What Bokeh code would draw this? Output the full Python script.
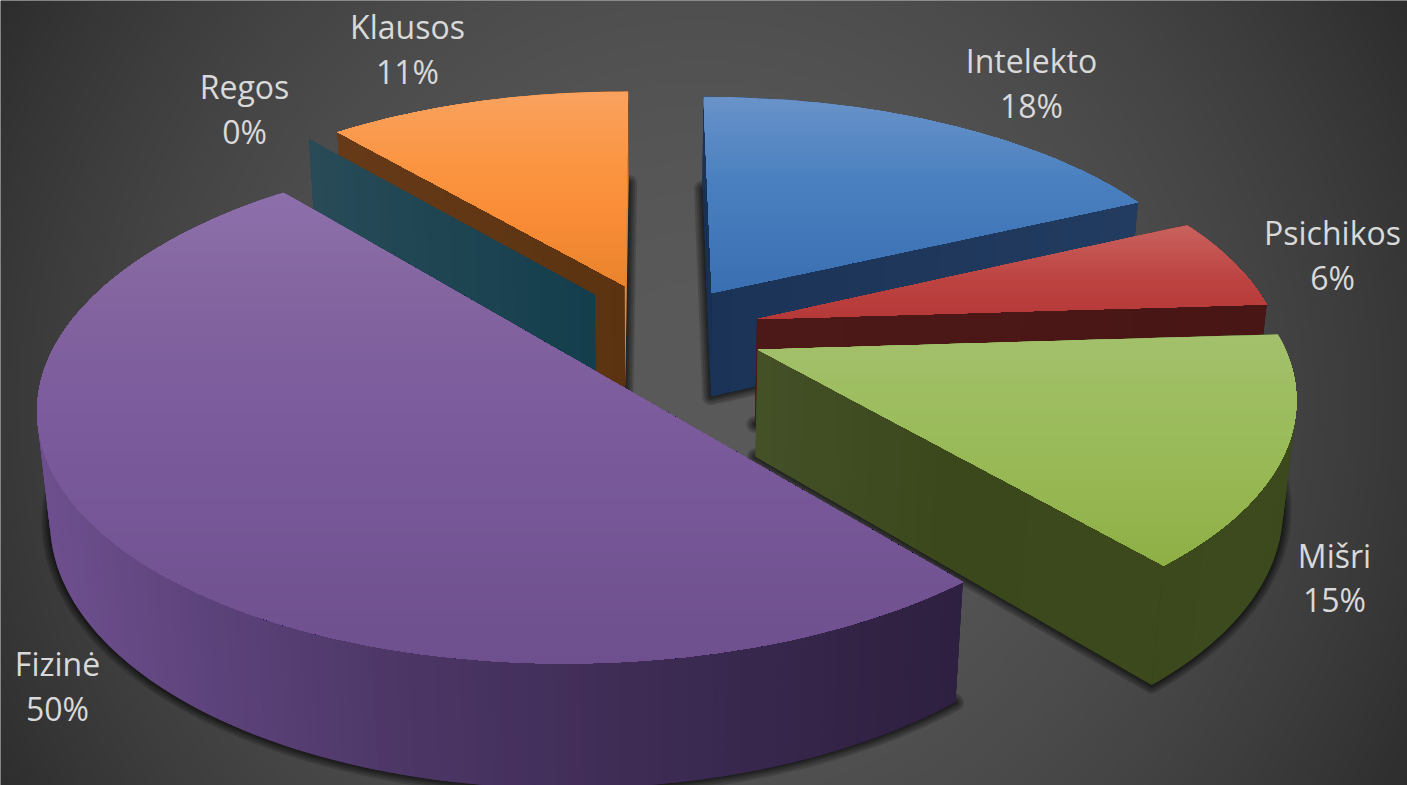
import numpy as np
from bokeh.plotting import figure
from bokeh.models import Range1d
from bokeh.core.properties import value
from bokeh.embed import file_html
from bokeh.resources import INLINE

# ---- data ----
categories = ["Intelekto", "Psichikos", "Mišri", "Fizinė", "Regos", "Klausos"]
shares = [18, 6, 14.85, 50, 0, 11.15]
percent_labels = ["18%", "6%", "15%", "50%", "0%", "11%"]

# ---- styles ----
top_stops = {
    "Intelekto": [(95, "#6a93c9"), (180, "#4a80bf"), (292, "#3a70b2")],
    "Psichikos": [(223, "#c9635f"), (280, "#bc4341"), (322, "#b43837")],
    "Mišri": [(335, "#a3c06c"), (430, "#9bbc5b"), (560, "#8fb047")],
    "Fizinė": [(193, "#8d70ab"), (300, "#83649f"), (420, "#7b5b9c"), (660, "#6f508e")],
    "Regos": [(100, "#2a5a6a"), (300, "#2a5a6a")],
    "Klausos": [(90, "#f9a260"), (170, "#fb9440"), (220, "#f98c36"), (288, "#e8832c")],
}
wall_stops = {
    "Intelekto": [(705, "#1a3356"), (1137, "#223b60")],
    "Psichikos": [(758, "#4d1818"), (1268, "#481615")],
    "Mišri": [(755, "#445027"), (950, "#3b481c"), (1290, "#3c4a1e")],
    "Fizinė": [(45, "#6d4f8e"), (200, "#5d437b"), (400, "#4c3666"), (700, "#3a2950"), (960, "#2e2040")],
    "Regos": [(307, "#284b57"), (595, "#143e4d")],
    "Klausos": [(338, "#663a18"), (628, "#5b3310")],
}
sliver = {"Klausos": "#d98a3e"}
label_pos = {
    "Intelekto": (1031, 60, 105), "Psichikos": (1332, 232, 277), "Mišri": (1334, 555, 599),
    "Fizinė": (57, 663, 708), "Regos": (244, 86, 131), "Klausos": (407, 26, 71),
}
draw_order = ["Intelekto", "Psichikos", "Klausos", "Regos", "Fizinė", "Mišri"]
explode = {"Intelekto": 0.19, "Psichikos": 0.193, "Mišri": 0.2, "Fizinė": 0.2, "Regos": 0.2, "Klausos": 0.205}
W, H = 1407, 785
CX, CY, VX = 660.0, 330.0, 650.0   # pie centre and vanishing column on the page
RX, RY, K = 521.0, 240.0, 0.165    # ellipse radii and perspective strength
DEPTH, SHRINK = 106.0, 0.02


def hex2rgb(c):
    return np.array([int(c[i:i + 2], 16) for i in (1, 3, 5)], float)


def ramp(stops, t):
    ts = [a for a, _ in stops]
    cols = np.array([hex2rgb(c) for _, c in stops])
    rgb = [np.interp(t, ts, cols[:, i]) for i in range(3)]
    return "#%02x%02x%02x" % tuple(int(round(v)) for v in rgb)


def project(X, Y, z):
    s = 1 / (1 + K * Y)
    x = VX + (CX - VX + RX * X) * s
    y = CY - RY * Y * s + DEPTH * z * s ** 0.8
    x = VX + (x - VX) * (1 - SHRINK * z * s)
    return x, y


def clip_below(poly, y0):
    out = []
    for i in range(len(poly)):
        a, b = poly[i], poly[(i + 1) % len(poly)]
        ka, kb = a[1] >= y0, b[1] >= y0
        if ka:
            out.append(a)
        if ka != kb:
            t = (y0 - a[1]) / (b[1] - a[1])
            out.append((a[0] + t * (b[0] - a[0]), y0))
    return out


# slice outlines in pie coordinates
outlines = {}
start = 0.0
total = sum(shares)
for name, v in zip(categories, shares):
    a0 = start * 2 * np.pi / total
    a1 = (start + v) * 2 * np.pi / total
    mid = (a0 + a1) / 2
    ox, oy = explode[name] * np.sin(mid), explode[name] * np.cos(mid)
    rr = np.linspace(0, 1, 24)
    arc = np.linspace(a0, a1, max(2, int(v * 3)))
    px = list(ox + rr * np.sin(a0)) + list(ox + np.sin(arc)) + list(ox + rr[::-1] * np.sin(a1))
    py = list(oy + rr * np.cos(a0)) + list(oy + np.cos(arc)) + list(oy + rr[::-1] * np.cos(a1))
    outlines[name] = (np.array(px), np.array(py))
    start += v

p = figure(width=W, height=H, x_range=Range1d(0, W), y_range=Range1d(H, 0),
           toolbar_location=None, output_backend="svg", min_border=0,
           x_axis_type=None, y_axis_type=None, margin=(0, 0, 0, 0))
p.grid.visible = False
p.outline_line_color = None
p.background_fill_color = "#444444"
p.border_fill_color = "#444444"

# background radial shading
gy, gx = np.mgrid[0:H // 2 + 1, 0:W // 2 + 1]
d2 = ((gx * 2 - 700.0) ** 2 + (gy * 2 - 400.0) ** 2) / 800.0 ** 2
lev = np.clip(90 - 44 * d2, 40, 92).astype(np.uint32)
bg = (255 << 24) | (lev << 16) | (lev << 8) | lev
p.image_rgba(image=[bg.astype(np.uint32)], x=0, y=0, dw=W, dh=H)

# soft shadows under each slice
for name in draw_order:
    if name == "Regos":
        continue
    X, Y = outlines[name]
    sx, sy = project(X, Y, 1.0)
    for lw in (17, 13, 9, 6, 3):
        p.patch(list(sx), list(sy), fill_color="black", fill_alpha=0.16,
                line_color="black", line_alpha=0.16, line_width=lw, line_join="round")

for name in draw_order:
    X, Y = outlines[name]
    tx, ty = project(X, Y, 0.0)
    bx, by = project(X, Y, 1.0)
    xs, ys, cols = [], [], []
    n = len(X)
    for i in range(n - 1):
        j = min(i + 2, n - 1)
        xs.append([tx[i], tx[i + 1], tx[j], bx[j], bx[i + 1], bx[i]])
        ys.append([ty[i], ty[i + 1], ty[j], by[j], by[i + 1], by[i]])
        cols.append(ramp(wall_stops[name], (tx[i] + tx[i + 1]) / 2))
    if name in sliver:   # the cut face that catches the light
        m = 24
        xs.append(list(tx[-m:]) + list(bx[-m:][::-1]))
        ys.append(list(ty[-m:]) + list(by[-m:][::-1]))
        cols.append(sliver[name])
    p.patches(xs, ys, fill_color=cols, line_color=None)

    if name == "Regos":
        continue
    poly = list(zip(tx, ty))
    xs, ys, cols = [], [], []
    step = 3.0
    yy = np.floor(ty.min())
    while yy < ty.max():
        band = clip_below(poly, yy)
        if len(band) >= 3:
            xs.append([q[0] for q in band])
            ys.append([q[1] for q in band])
            cols.append(ramp(top_stops[name], yy + step / 2))
        yy += step
    p.patches(xs, ys, fill_color=cols, line_color=None)

for name, pct in zip(categories, percent_labels):
    lx, ly1, ly2 = label_pos[name]
    p.text([lx, lx], [ly1, ly2], text=[name, pct], text_font=value("Open Sans"),
           text_font_size="32px", text_color="#d9d9d9", text_align="center",
           text_baseline="middle")

open("out.html", "w").write(file_html(p, INLINE))
